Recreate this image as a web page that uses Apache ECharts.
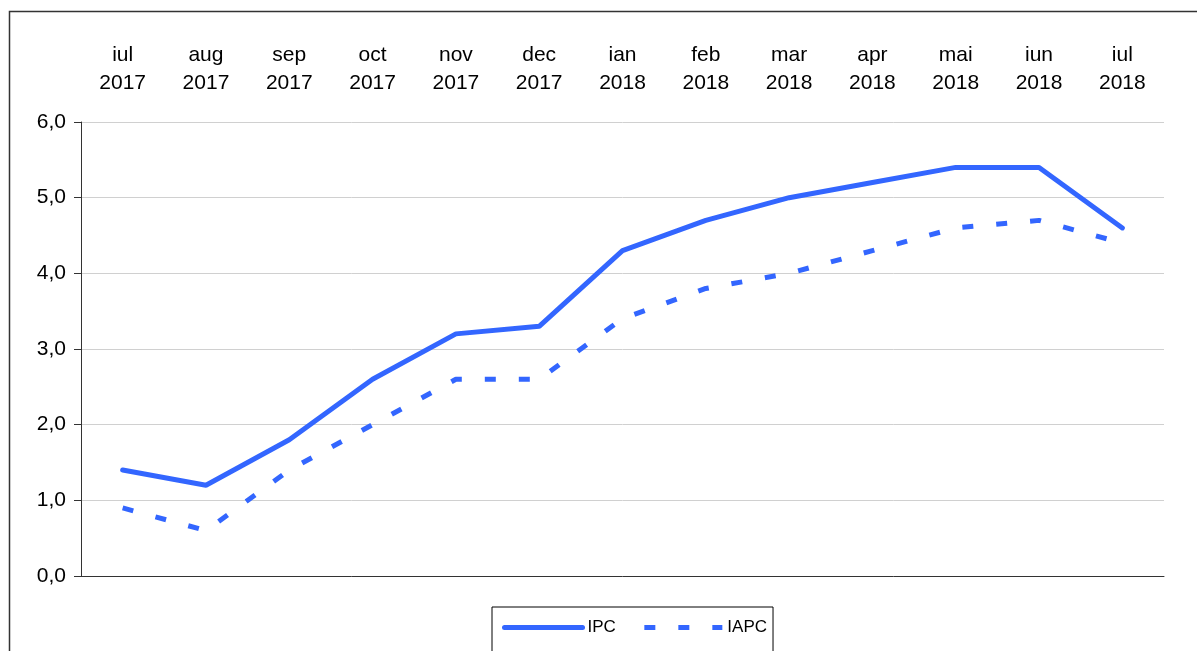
<!DOCTYPE html>
<html>
<head>
<meta charset="utf-8">
<script src="https://cdn.jsdelivr.net/npm/echarts@6/dist/echarts.min.js"></script>
<style>
  html, body { margin: 0; padding: 0; background: #fff; }
  #chart { width: 1197px; height: 651px; }
</style>
</head>
<body>
<div id="chart"></div>
<script>
// luni (eticheta pe doua randuri)
var months = ['iul\n2017', 'aug\n2017', 'sep\n2017', 'oct\n2017', 'nov\n2017', 'dec\n2017',
              'ian\n2018', 'feb\n2018', 'mar\n2018', 'apr\n2018', 'mai\n2018', 'iun\n2018', 'iul\n2018'];
var ipc  = [1.4, 1.2, 1.8, 2.6, 3.2, 3.3, 4.3, 4.7, 5.0, 5.2, 5.4, 5.4, 4.6];
var iapc = [0.9, 0.6, 1.4, 2.0, 2.6, 2.6, 3.4, 3.8, 4.0, 4.3, 4.6, 4.7, 4.4];
var blue = '#3366ff';

var chart = echarts.init(document.getElementById('chart'));
var option = {
    animation: false,
    textStyle: { fontFamily: 'Liberation Sans, Arial, sans-serif', color: '#000' },
    graphic: [{
        type: 'rect',
        left: 7, top: 9,
        shape: { width: 1300, height: 800 },
        style: { fill: 'none', stroke: '#333', lineWidth: 1.5 },
        silent: true
    }],
    grid: { left: 81, right: 33, top: 122, bottom: 75 },
    legend: {
        left: 492, top: 607,
        padding: [12, 6, 30, 10],
        borderColor: '#000', borderWidth: 1,
        itemWidth: 78, itemHeight: 14, itemGap: 26,
        itemStyle: { opacity: 0 },
        lineStyle: { width: 5 },
        textStyle: { fontSize: 17, color: '#000' },
        data: ['IPC', 'IAPC']
    },
    xAxis: [{
        type: 'category',
        data: months,
        position: 'bottom',
        axisLine: { lineStyle: { color: '#333' } },
        axisTick: { length: 10, lineStyle: { color: '#333' } },
        axisLabel: { show: false }
    }, {
        type: 'category',
        data: months,
        position: 'top',
        axisLine: { show: false },
        axisTick: { show: false },
        axisLabel: { fontSize: 21, color: '#000', lineHeight: 28, margin: 25 }
    }],
    yAxis: {
        type: 'value',
        min: 0, max: 6, interval: 1,
        axisLine: { show: true, lineStyle: { color: '#333' } },
        axisTick: { show: true, length: 7, lineStyle: { color: '#333' } },
        splitLine: { lineStyle: { color: '#d0d0d0', width: 1 } },
        axisLabel: {
            fontSize: 21, color: '#000', margin: 15,
            formatter: function (v) { return v.toFixed(1).replace('.', ','); }
        }
    },
    series: [{
        name: 'IPC',
        type: 'line',
        data: ipc,
        symbol: 'none',
        color: blue,
        lineStyle: { color: blue, width: 5, cap: 'round' }
    }, {
        name: 'IAPC',
        type: 'line',
        data: iapc,
        symbol: 'none',
        color: blue,
        lineStyle: { color: blue, width: 5, type: [11, 23] }
    }]
};
chart.setOption(option);
</script>
</body>
</html>
